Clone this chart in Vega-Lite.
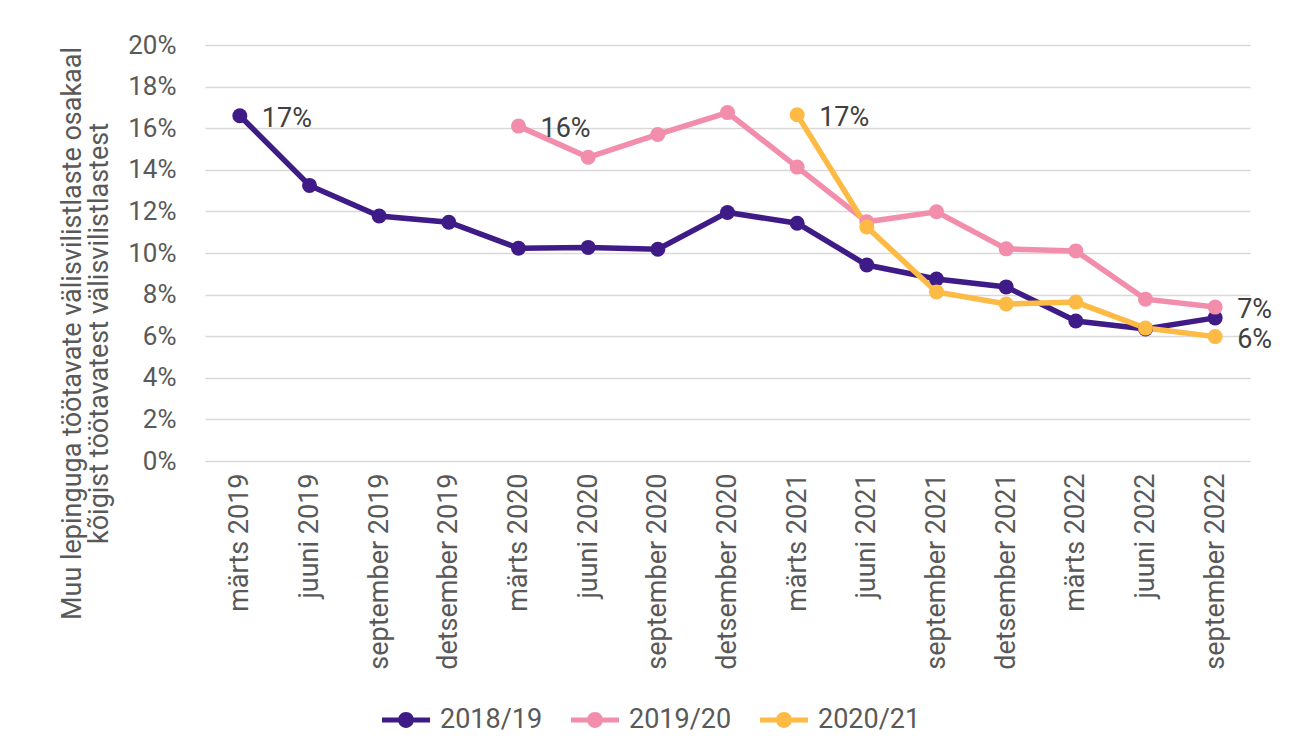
{
  "$schema": "https://vega.github.io/schema/vega-lite/v6.json",
  "autosize": {"type": "none"},
  "width": 1045,
  "height": 416,
  "padding": {"left": 205, "top": 45, "right": 50, "bottom": 295},
  "background": "white",
  "config": {
    "view": {"stroke": null},
    "font": "Roboto",
    "axis": {"labelFont": "Roboto", "titleFont": "Roboto", "labelColor": "#595959", "titleColor": "#595959"}
  },
  "data": {
    "values": [
      {"kuu": "märts 2019", "seeria": "2018/19", "v": 0.166, "label": "17%"},
      {"kuu": "juuni 2019", "seeria": "2018/19", "v": 0.1325},
      {"kuu": "september 2019", "seeria": "2018/19", "v": 0.1178},
      {"kuu": "detsember 2019", "seeria": "2018/19", "v": 0.1148},
      {"kuu": "märts 2020", "seeria": "2018/19", "v": 0.1023},
      {"kuu": "juuni 2020", "seeria": "2018/19", "v": 0.1027},
      {"kuu": "september 2020", "seeria": "2018/19", "v": 0.1018},
      {"kuu": "detsember 2020", "seeria": "2018/19", "v": 0.1195},
      {"kuu": "märts 2021", "seeria": "2018/19", "v": 0.1143},
      {"kuu": "juuni 2021", "seeria": "2018/19", "v": 0.0942},
      {"kuu": "september 2021", "seeria": "2018/19", "v": 0.0875},
      {"kuu": "detsember 2021", "seeria": "2018/19", "v": 0.0837},
      {"kuu": "märts 2022", "seeria": "2018/19", "v": 0.0673},
      {"kuu": "juuni 2022", "seeria": "2018/19", "v": 0.0635},
      {"kuu": "september 2022", "seeria": "2018/19", "v": 0.0688},
      {"kuu": "märts 2020", "seeria": "2019/20", "v": 0.161, "label": "16%"},
      {"kuu": "juuni 2020", "seeria": "2019/20", "v": 0.146},
      {"kuu": "september 2020", "seeria": "2019/20", "v": 0.157},
      {"kuu": "detsember 2020", "seeria": "2019/20", "v": 0.1675},
      {"kuu": "märts 2021", "seeria": "2019/20", "v": 0.1413},
      {"kuu": "juuni 2021", "seeria": "2019/20", "v": 0.1150},
      {"kuu": "september 2021", "seeria": "2019/20", "v": 0.1198},
      {"kuu": "detsember 2021", "seeria": "2019/20", "v": 0.1020},
      {"kuu": "märts 2022", "seeria": "2019/20", "v": 0.1010},
      {"kuu": "juuni 2022", "seeria": "2019/20", "v": 0.0778},
      {"kuu": "september 2022", "seeria": "2019/20", "v": 0.0740, "label": "7%"},
      {"kuu": "märts 2021", "seeria": "2020/21", "v": 0.1665, "label": "17%"},
      {"kuu": "juuni 2021", "seeria": "2020/21", "v": 0.1125},
      {"kuu": "september 2021", "seeria": "2020/21", "v": 0.0813},
      {"kuu": "detsember 2021", "seeria": "2020/21", "v": 0.0755},
      {"kuu": "märts 2022", "seeria": "2020/21", "v": 0.0764},
      {"kuu": "juuni 2022", "seeria": "2020/21", "v": 0.0639},
      {"kuu": "september 2022", "seeria": "2020/21", "v": 0.0598, "label": "6%"}
    ]
  },
  "encoding": {
    "x": {
      "field": "kuu", "type": "ordinal", "sort": null,
      "scale": {"type": "point", "padding": 0.5},
      "axis": {"title": null, "labelAngle": -90, "labelFontSize": 27, "labelPadding": 12, "labelLimit": 0, "ticks": false, "domain": false, "grid": false}
    },
    "y": {
      "field": "v", "type": "quantitative",
      "scale": {"domain": [0, 0.2], "nice": false},
      "axis": {
        "values": [0, 0.02, 0.04, 0.06, 0.08, 0.1, 0.12, 0.14, 0.16, 0.18, 0.2],
        "format": ".0%", "labelFontSize": 26, "labelPadding": 29, "ticks": false, "domain": false,
        "gridColor": "#D9D9D9", "gridWidth": 1.5,
        "title": ["Muu lepinguga töötavate välisvilistlaste osakaal", "kõigist töötavatest välisvilistlastest"],
        "titleFontSize": 27, "titleFontWeight": "normal", "titleLineHeight": 27, "titlePadding": 14, "titleY": 288
      }
    },
    "color": {
      "field": "seeria", "type": "nominal",
      "scale": {"domain": ["2018/19", "2019/20", "2020/21"], "range": ["#3F1B87", "#F28EAB", "#FDBA45"]},
      "legend": {
        "title": null, "orient": "none", "legendX": 177, "legendY": 651, "direction": "horizontal", "columns": 3,
        "labelFont": "Roboto", "labelFontSize": 27, "labelColor": "#595959", "labelOffset": 10, "columnPadding": 28,
        "symbolType": "M -1 -0.1 H 1 V 0.1 H -1 Z M -0.33 0 A 0.33 0.33 0 1 1 0.33 0 A 0.33 0.33 0 1 1 -0.33 0 Z",
        "symbolSize": 2304, "symbolStrokeWidth": 0,
        "encode": {"symbols": {"update": {"fill": {"scale": "color", "field": "value"}, "strokeWidth": {"value": 0}, "opacity": {"value": 1}}}}
      }
    }
  },
  "layer": [
    {"mark": {"type": "line", "strokeWidth": 5.5}, "encoding": {"detail": {"field": "seeria"}}},
    {"mark": {"type": "point", "filled": true, "size": 225, "opacity": 1}},
    {
      "transform": [{"filter": "datum.label != null"}],
      "mark": {"type": "text", "align": "left", "baseline": "middle", "dx": 22, "dy": 3, "fontSize": 27, "font": "Roboto"},
      "encoding": {"text": {"field": "label"}, "color": {"value": "#404040"}}
    }
  ]
}
